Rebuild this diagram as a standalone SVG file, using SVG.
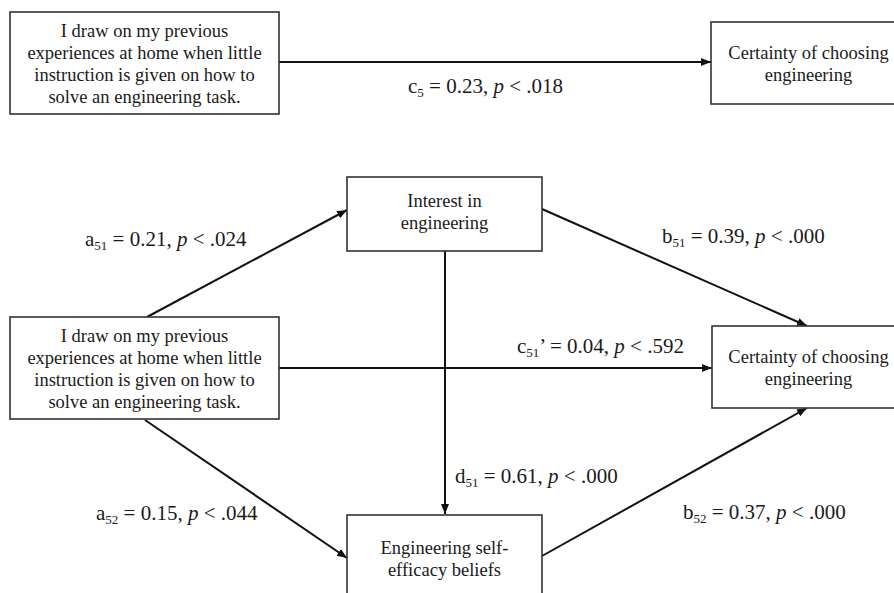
<svg xmlns="http://www.w3.org/2000/svg" width="894" height="593" viewBox="0 0 894 593">
<style>
.box{fill:#fff;stroke:#333;stroke-width:1.6}
.nt{font-family:"Liberation Serif","Times New Roman",serif;font-size:18.5px;fill:#1a1a1a;text-anchor:middle}
.lt{font-family:"Liberation Serif","Times New Roman",serif;font-size:21px;fill:#1a1a1a}
.sub{font-size:13px}
.it{font-style:italic}
.edge{fill:none;stroke:#111;stroke-width:2;marker-end:url(#ah)}
</style>
<defs>
<marker id="ah" markerUnits="userSpaceOnUse" markerWidth="12" markerHeight="10" refX="10" refY="4" orient="auto">
<path d="M0,0 L10,4 L0,8 z" fill="#111"/>
</marker>
</defs>
<rect width="894" height="593" fill="#fff"/>

<g id="connectors">
<path class="edge" d="M279,62 L711,62"/>
<path class="edge" d="M147,317 L347,210"/>
<path class="edge" d="M542,209 L807,326"/>
<path class="edge" d="M279,368 L712,368"/>
<path class="edge" d="M445,251 L445,514"/>
<path class="edge" d="M145,420 L347,558"/>
<path class="edge" d="M542,556 L807,408"/>
</g>

<g id="n_top_predictor">
<rect class="box" x="10" y="12" width="269" height="102"/>
<text class="nt" x="144.5" y="37">I draw on my previous</text>
<text class="nt" x="144.5" y="59">experiences at home when little</text>
<text class="nt" x="144.5" y="81">instruction is given on how to</text>
<text class="nt" x="144.5" y="103">solve an engineering task.</text>
</g>

<g id="n_top_outcome">
<rect class="box" x="711" y="22" width="195" height="82"/>
<text class="nt" x="808.5" y="59">Certainty of choosing</text>
<text class="nt" x="808.5" y="81">engineering</text>
</g>

<g id="n_interest">
<rect class="box" x="347" y="177" width="195" height="74"/>
<text class="nt" x="444.5" y="207">Interest in</text>
<text class="nt" x="444.5" y="229">engineering</text>
</g>

<g id="n_predictor">
<rect class="box" x="10" y="317" width="269" height="102"/>
<text class="nt" x="144.5" y="342">I draw on my previous</text>
<text class="nt" x="144.5" y="364">experiences at home when little</text>
<text class="nt" x="144.5" y="386">instruction is given on how to</text>
<text class="nt" x="144.5" y="408">solve an engineering task.</text>
</g>

<g id="n_outcome">
<rect class="box" x="712" y="326" width="195" height="82"/>
<text class="nt" x="808.5" y="363">Certainty of choosing</text>
<text class="nt" x="808.5" y="385">engineering</text>
</g>

<g id="n_selfefficacy">
<rect class="box" x="347" y="515" width="195" height="90"/>
<text class="nt" x="444.5" y="554">Engineering self-</text>
<text class="nt" x="444.5" y="576">efficacy beliefs</text>
</g>

<g id="labels">
<text class="lt" x="408" y="93">c<tspan class="sub" dy="4">5</tspan><tspan dy="-4"> = 0.23, </tspan><tspan class="it">p</tspan> &lt; .018</text>
<text class="lt" x="85" y="246">a<tspan class="sub" dy="4">51</tspan><tspan dy="-4"> = 0.21, </tspan><tspan class="it">p</tspan> &lt; .024</text>
<text class="lt" x="662" y="243">b<tspan class="sub" dy="4">51</tspan><tspan dy="-4"> = 0.39, </tspan><tspan class="it">p</tspan> &lt; .000</text>
<text class="lt" x="517" y="353">c<tspan class="sub" dy="4">51</tspan><tspan dy="-4">’ = 0.04, </tspan><tspan class="it">p</tspan> &lt; .592</text>
<text class="lt" x="455" y="483">d<tspan class="sub" dy="4">51</tspan><tspan dy="-4"> = 0.61, </tspan><tspan class="it">p</tspan> &lt; .000</text>
<text class="lt" x="96" y="520">a<tspan class="sub" dy="4">52</tspan><tspan dy="-4"> = 0.15, </tspan><tspan class="it">p</tspan> &lt; .044</text>
<text class="lt" x="683" y="519">b<tspan class="sub" dy="4">52</tspan><tspan dy="-4"> = 0.37, </tspan><tspan class="it">p</tspan> &lt; .000</text>
</g>
</svg>
